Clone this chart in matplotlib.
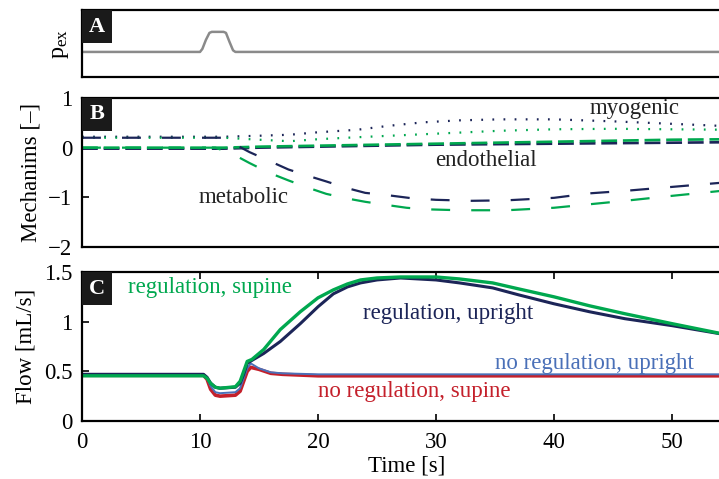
import matplotlib
matplotlib.use("Agg")
import matplotlib.pyplot as plt
from matplotlib.patches import Rectangle

plt.rcParams['font.family'] = ['Liberation Serif', 'DejaVu Serif']
plt.rcParams['mathtext.fontset'] = 'custom'
plt.rcParams['mathtext.rm'] = 'Liberation Serif'
plt.rcParams['mathtext.it'] = 'Liberation Serif:italic'

# ---------------- data ----------------
# Panel A: external pressure pulse
pex_t = [0, 10.0, 10.2, 10.5, 10.8, 11.0, 12.0, 12.2, 12.5, 12.8, 13.0, 55]
pex_v = [0, 0, 0.15, 0.6, 0.95, 1.0, 1.0, 0.95, 0.5, 0.08, 0, 0]

# Panel B: mechanisms
met_up_t = [0, 12.0, 12.7, 14.2, 15.9, 17.5, 19.2, 20.7, 22.4, 24, 26, 28, 30, 33, 36, 40, 43, 46, 50, 55]
met_up_v = [0.2, 0.2, 0.1, -0.09, -0.27, -0.44, -0.57, -0.68, -0.81, -0.91, -0.96, -1.02, -1.05, -1.07, -1.06, -1.01, -0.92, -0.87, -0.79, -0.69]
met_sup_t = [0, 11.3, 12.7, 14.2, 15.9, 17.5, 19.2, 20.7, 22.4, 24, 26, 27.5, 29, 32, 36, 40, 43, 46, 50, 55]
met_sup_v = [0.0, 0.0, -0.12, -0.31, -0.51, -0.66, -0.81, -0.93, -1.02, -1.09, -1.16, -1.21, -1.24, -1.26, -1.26, -1.21, -1.14, -1.07, -0.97, -0.85]

endo_up_t = [0, 12, 15, 20, 25, 30, 40, 50, 55]
endo_up_v = [-0.02, -0.02, 0.0, 0.02, 0.04, 0.06, 0.08, 0.10, 0.11]
endo_sup_t = [0, 12, 15, 20, 25, 30, 40, 50, 55]
endo_sup_v = [0.0, 0.0, 0.02, 0.04, 0.06, 0.08, 0.12, 0.16, 0.17]

myo_up_t = [0, 12, 15, 17.6, 20, 23.3, 26, 28.9, 32, 35.4, 40, 45, 50, 55]
myo_up_v = [0.22, 0.22, 0.24, 0.26, 0.31, 0.36, 0.44, 0.51, 0.55, 0.57, 0.57, 0.53, 0.48, 0.43]
myo_sup_t = [0, 12, 15, 17.6, 20, 23.3, 28.9, 35.4, 40, 45, 50, 55]
myo_sup_v = [0.2, 0.2, 0.16, 0.13, 0.17, 0.21, 0.27, 0.34, 0.37, 0.38, 0.37, 0.36]

# Panel C: flows
flow_t = [0, 10.3, 10.6, 10.9, 11.3, 11.7, 13.0, 13.4, 13.7, 14.0, 14.4, 15.4, 16.8, 18.5, 20, 21.3, 22.5, 23.6, 25, 27, 30, 32, 34.8, 37, 40, 43, 46, 50, 55]
reg_up = [0.47, 0.47, 0.44, 0.38, 0.34, 0.33, 0.34, 0.38, 0.47, 0.58, 0.61, 0.68, 0.80, 0.98, 1.15, 1.28, 1.35, 1.39, 1.42, 1.44, 1.42, 1.39, 1.34, 1.27, 1.18, 1.10, 1.03, 0.96, 0.86]
reg_sup = [0.455, 0.455, 0.43, 0.38, 0.34, 0.33, 0.345, 0.40, 0.50, 0.60, 0.62, 0.72, 0.92, 1.10, 1.24, 1.32, 1.38, 1.42, 1.44, 1.45, 1.45, 1.43, 1.39, 1.33, 1.25, 1.16, 1.08, 0.98, 0.86]
noreg_t = [0, 10.3, 10.6, 10.9, 11.3, 11.7, 13.0, 13.4, 13.7, 14.0, 14.3, 15.0, 16.0, 17.0, 20, 30, 40, 55]
noreg_up = [0.47, 0.47, 0.43, 0.35, 0.29, 0.28, 0.29, 0.33, 0.43, 0.53, 0.58, 0.53, 0.49, 0.48, 0.47, 0.47, 0.47, 0.47]
noreg_sup = [0.46, 0.46, 0.42, 0.32, 0.26, 0.25, 0.26, 0.30, 0.40, 0.50, 0.54, 0.52, 0.48, 0.47, 0.455, 0.455, 0.455, 0.455]

xticks = [0, 10, 20, 30, 40, 50]

# ---------------- style ----------------
NAVY = '#1c2558'
GREEN = '#00a84f'
BLUE = '#4a70b8'
RED = '#c4202b'
GRAY = '#8a8a8a'
FS = 16.5

W, H = 719, 479
fig = plt.figure(figsize=(W / 100, H / 100), dpi=100)

def axpos(top, bottom, left=82, right=731):
    return [left / W, 1 - bottom / H, (right - left) / W, (bottom - top) / H]

axA = fig.add_axes(axpos(10, 77))
axB = fig.add_axes(axpos(98, 247))
axC = fig.add_axes(axpos(272, 421))

def panel_label(ax, letter, top, bottom):
    hpx = bottom - top
    wpx = 731 - 82
    w = 30 / wpx
    h = 33 / hpx
    ax.add_patch(Rectangle((0, 1 - h), w, h, transform=ax.transAxes,
                           facecolor='#1a1a1a', edgecolor='none', zorder=10, clip_on=False))
    ax.text(w / 2, 1 - h / 2, letter, transform=ax.transAxes, color='white',
            fontsize=16, fontweight='bold', ha='center', va='center', zorder=11)

for ax in (axA, axB, axC):
    for s in ax.spines.values():
        s.set_linewidth(1.6)
    ax.set_xlim(0, 55)

# Panel A
axA.plot(pex_t, pex_v, color=GRAY, lw=1.8)
axA.set_ylim(-1.25, 2.09)
axA.set_xticks([])
axA.set_yticks([])
axA.set_ylabel('p$_{\\mathrm{ex}}$', fontsize=FS + 1, labelpad=8)
panel_label(axA, 'A', 10, 77)

# Panel B
lw = 1.6
axB.plot(myo_up_t, myo_up_v, color=NAVY, lw=lw, dashes=(0.8, 4.2))
axB.plot(myo_sup_t, myo_sup_v, color=GREEN, lw=lw, dashes=(0.8, 4.2))
axB.plot(endo_up_t, endo_up_v, color=NAVY, lw=lw + 0.3, dashes=(6.0, 2.2))
axB.plot(endo_sup_t, endo_sup_v, color=GREEN, lw=lw + 0.3, dashes=(6.0, 2.2))
axB.plot(met_up_t, met_up_v, color=NAVY, lw=lw, dashes=(8.5, 9.5))
axB.plot(met_sup_t, met_sup_v, color=GREEN, lw=lw, dashes=(8.5, 9.5))
axB.set_ylim(-2, 1)
axB.set_yticks([-2, -1, 0, 1])
axB.set_yticklabels(['\u22122', '\u22121', '0', '1'])
axB.set_xticks([])
axB.tick_params(axis='y', direction='in', length=5, width=1.2, labelsize=FS, pad=7, right=True)
axB.set_ylabel('Mechanims [\u2013]', fontsize=FS, labelpad=5)
axB.text(43.0, 0.78, 'myogenic', fontsize=FS, color='#222222', ha='left', va='center')
axB.text(29.9, -0.26, 'endothelial', fontsize=FS, color='#222222', ha='left', va='center')
axB.text(9.9, -1.0, 'metabolic', fontsize=FS, color='#222222', ha='left', va='center')
panel_label(axB, 'B', 98, 247)

# Panel C
axC.plot(noreg_t, noreg_sup, color=RED, lw=2.6)
axC.plot(noreg_t, noreg_up, color=BLUE, lw=1.4)
axC.plot(flow_t, reg_up, color=NAVY, lw=2.2)
axC.plot(flow_t, reg_sup, color=GREEN, lw=2.4)
axC.set_ylim(0, 1.5)
axC.set_yticks([0, 0.5, 1, 1.5])
axC.set_yticklabels(['0', '0.5', '1', '1.5'])
axC.set_xticks(xticks)
axC.tick_params(direction='in', length=5, width=1.2, labelsize=FS, top=True, right=True)
axC.tick_params(axis='x', pad=8)
axC.tick_params(axis='y', pad=7)
axC.set_xlabel('Time [s]', fontsize=FS, labelpad=2)
axC.set_ylabel('Flow [mL/s]', fontsize=FS, labelpad=5)
axC.text(3.9, 1.34, 'regulation, supine', fontsize=FS, color=GREEN, ha='left', va='center')
axC.text(23.8, 1.08, 'regulation, upright', fontsize=FS, color=NAVY, ha='left', va='center')
axC.text(35.0, 0.58, 'no regulation, upright', fontsize=FS, color=BLUE, ha='left', va='center')
axC.text(20.0, 0.30, 'no regulation, supine', fontsize=FS, color=RED, ha='left', va='center')
panel_label(axC, 'C', 272, 421)

fig.savefig('out.png', dpi=100)
